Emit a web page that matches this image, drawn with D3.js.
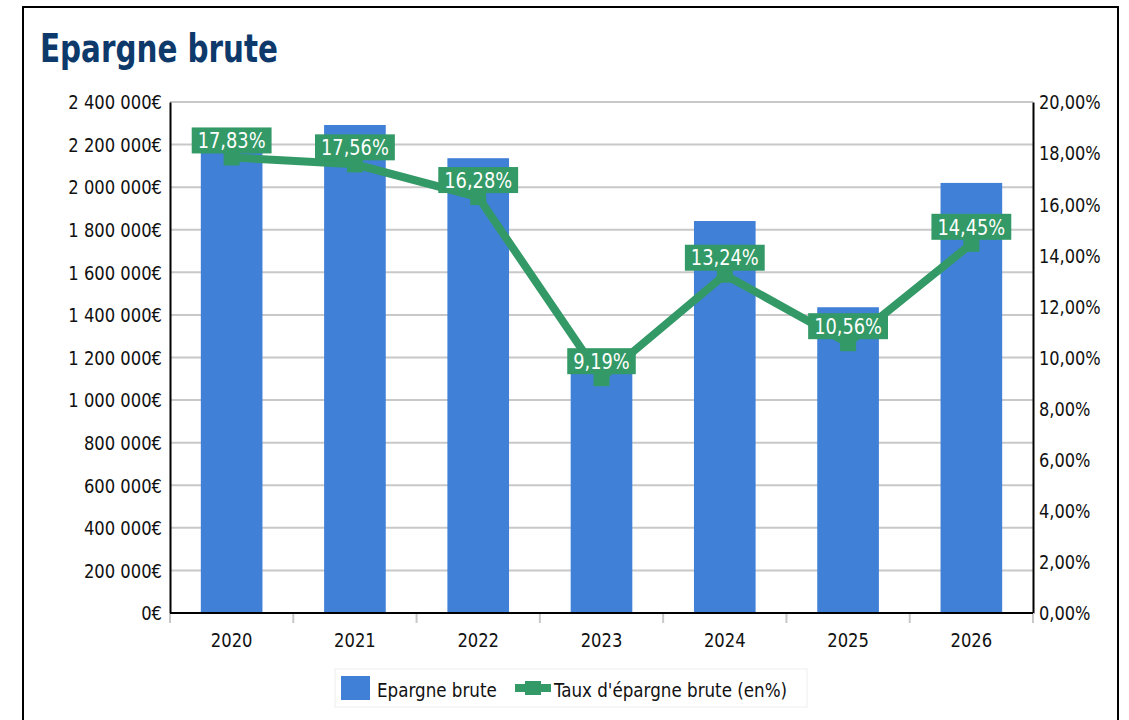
<!DOCTYPE html>
<html><head><meta charset="utf-8">
<script src="https://cdn.jsdelivr.net/npm/d3@7"></script>
<style>
body{margin:0;background:#fff;}
text{font-family:"DejaVu Sans Condensed","DejaVu Sans",sans-serif;}
</style></head>
<body><svg id="c" width="1129" height="720"></svg>
<script>
const categories = ["2020","2021","2022","2023","2024","2025","2026"];
const epargneBrute = [2230000, 2292000, 2136000, 1220000, 1841000, 1436000, 2020000];
const tauxEpargne = [17.83, 17.56, 16.28, 9.19, 13.24, 10.56, 14.45];
const leftTicks = [0,200000,400000,600000,800000,1000000,1200000,1400000,1600000,1800000,2000000,2200000,2400000];
const rightTicks = [0,2,4,6,8,10,12,14,16,18,20];
const title = "Epargne brute";
const seriesNames = ["Epargne brute","Taux d'épargne brute (en%)"];

const blue = "#4080d6", green = "#339966";
const svg = d3.select("#c");
const L = 170, R = 1033, T = 102, B = 613;

function squeeze(sel, f){
  sel.each(function(){
    const w = this.getComputedTextLength();
    d3.select(this).attr("textLength", w*f).attr("lengthAdjust","spacingAndGlyphs");
  });
}

// frame
svg.append("rect").attr("x",23).attr("y",7).attr("width",1095).attr("height",730)
  .attr("fill","none").attr("stroke","#000").attr("stroke-width",2);

const t = svg.append("text").attr("x",40).attr("y",62).attr("fill","#0e3a6b")
  .attr("font-size",39).attr("font-weight","bold").text(title);
t.attr("textLength",238).attr("lengthAdjust","spacingAndGlyphs");

const x = d3.scaleBand().domain(categories).range([L,R]).paddingInner(0.5).paddingOuter(0.25);
const xb = d3.scaleBand().domain(categories).range([L,R]);
const yL = d3.scaleLinear().domain([0,2400000]).range([B,T]);
const yR = d3.scaleLinear().domain([0,20]).range([B,T]);

// gridlines
svg.append("g").selectAll("line").data(leftTicks.slice(1)).join("line")
  .attr("x1",L).attr("x2",R).attr("y1",d=>yL(d)).attr("y2",d=>yL(d))
  .attr("stroke","#c8c8c8").attr("stroke-width",2);

const fmtL = d => d3.format(",")(d).replace(/,/g," ") + "€";
const fmtP = d => d.toFixed(2).replace(".",",") + "%";

// bars
svg.append("g").selectAll("rect").data(epargneBrute).join("rect")
  .attr("x",(d,i)=>x(categories[i])).attr("width",x.bandwidth())
  .attr("y",d=>yL(d)).attr("height",d=>B-yL(d)).attr("fill",blue);

// axes
const gl = svg.append("g").attr("transform",`translate(${L},0)`)
  .call(d3.axisLeft(yL).tickValues(leftTicks).tickFormat(fmtL).tickSize(0).tickPadding(8));
gl.select(".domain").attr("stroke","#000").attr("stroke-width",2);
gl.selectAll("text").attr("font-size",20).attr("fill","#111").attr("dy","0.34em");
squeeze(gl.selectAll("text"),0.91);
const gr = svg.append("g").attr("transform",`translate(${R},0)`)
  .call(d3.axisRight(yR).tickValues(rightTicks).tickFormat(fmtP).tickSize(0).tickPadding(6));
gr.select(".domain").attr("stroke","#000").attr("stroke-width",2);
gr.selectAll("text").attr("font-size",20).attr("fill","#111").attr("dy","0.34em");
squeeze(gr.selectAll("text"),0.9);

// x ticks
svg.append("g").selectAll("line").data(d3.range(categories.length+1)).join("line")
  .attr("x1",i=>L+i*xb.step()).attr("x2",i=>L+i*xb.step()).attr("y1",B).attr("y2",B+10)
  .attr("stroke","#c8c8c8").attr("stroke-width",2);
svg.append("line").attr("x1",L).attr("x2",R).attr("y1",B).attr("y2",B).attr("stroke","#000").attr("stroke-width",2);
const xl = svg.append("g").selectAll("text").data(categories).join("text")
  .attr("x",d=>xb(d)+xb.bandwidth()/2).attr("y",647).attr("text-anchor","middle")
  .attr("font-size",20).attr("fill","#111").text(d=>d);
squeeze(xl,0.91);

// line
const cx = i => xb(categories[i]) + xb.bandwidth()/2;
svg.append("path").datum(tauxEpargne)
  .attr("d", d3.line().x((d,i)=>cx(i)).y(d=>yR(d)))
  .attr("fill","none").attr("stroke",green).attr("stroke-width",8).attr("stroke-linejoin","miter");
svg.append("g").selectAll("rect").data(tauxEpargne).join("rect")
  .attr("x",(d,i)=>cx(i)-8).attr("y",d=>yR(d)-8).attr("width",16).attr("height",16).attr("fill",green);

// labels
const lg = svg.append("g").selectAll("g").data(tauxEpargne).join("g")
  .attr("transform",(d,i)=>`translate(${cx(i)},${yR(d)-17})`);
const lt = lg.append("text").attr("text-anchor","middle").attr("dy","0.36em")
  .attr("font-size",21.5).attr("fill","#fff").text(d=>fmtP(d));
squeeze(lt,0.92);
lg.each(function(){
  const g = d3.select(this); const w = +g.select("text").attr("textLength");
  g.insert("rect","text").attr("x",-w/2-6).attr("y",-13).attr("width",w+12).attr("height",26).attr("fill",green);
});

// legend
const leg = svg.append("g");
leg.append("rect").attr("x",335).attr("y",669).attr("width",472).attr("height",38)
  .attr("fill","#fff").attr("stroke","#eee").attr("stroke-width",1);
leg.append("rect").attr("x",341).attr("y",676).attr("width",29).attr("height",24).attr("fill",blue);
const lt1 = leg.append("text").attr("x",377).attr("y",697).attr("font-size",20).attr("fill","#111").text(seriesNames[0]);
leg.append("line").attr("x1",515).attr("x2",551).attr("y1",688).attr("y2",688).attr("stroke",green).attr("stroke-width",8);
leg.append("rect").attr("x",525).attr("y",681).attr("width",16).attr("height",14).attr("fill",green);
const lt2 = leg.append("text").attr("x",554).attr("y",697).attr("font-size",20).attr("fill","#111").text(seriesNames[1]);
squeeze(lt1,0.93); squeeze(lt2,0.93);
</script></body></html>
